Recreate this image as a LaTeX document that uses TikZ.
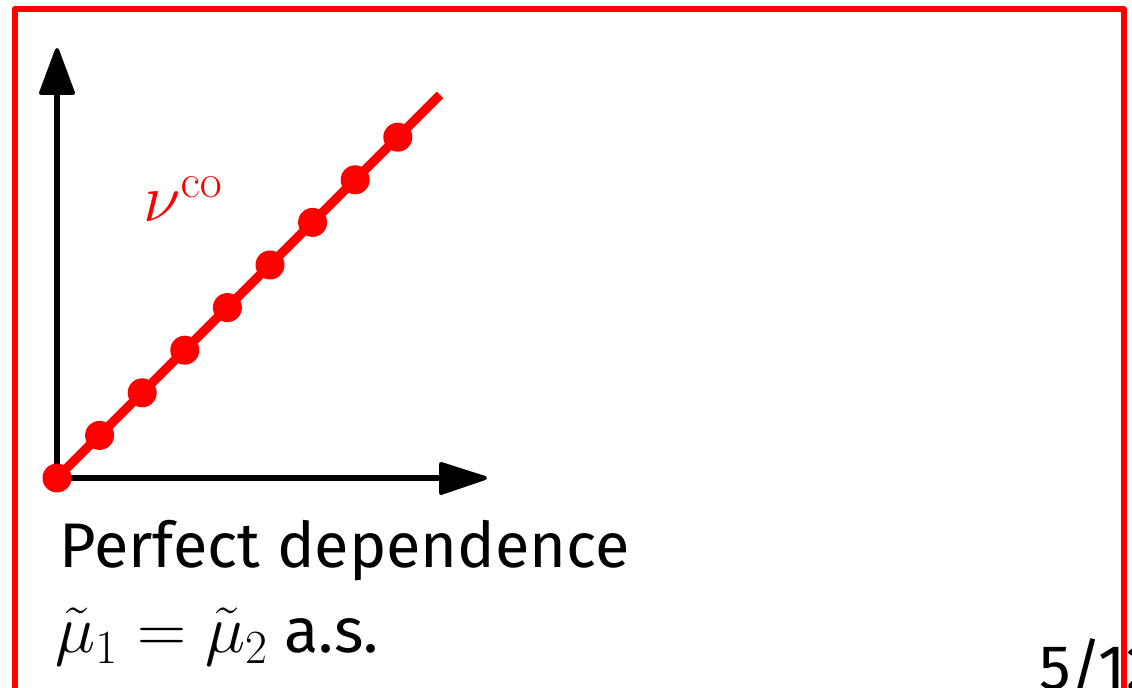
\RequirePackage{fix-cm}
\documentclass[tikz,border=0pt]{standalone}
\usepackage[no-math]{fontspec}
\setmainfont{Fira Sans}
\newcommand{\mathsz}{\fontsize{34}{40}\selectfont}
\begin{document}
\begin{tikzpicture}[x=0.5pt,y=-0.5pt,
  frame/.style={draw=red,line width=3pt,line join=round},
  axis/.style={draw=black,line width=3pt},
  axhead/.style={fill=black,draw=black,line width=2pt,line join=round},
  coline/.style={draw=red,line width=4.6pt},
  codot/.style={circle,fill=red,inner sep=0pt,minimum size=14.5pt},
  txt/.style={inner sep=0pt,anchor=base west,font=\fontsize{31.5}{38}\selectfont}]
\useasboundingbox (0,0) rectangle (1132,688);
\draw[frame] (14.5,9) rectangle (1123.5,760);
% axes
\coordinate (O) at (57,478);
\coordinate (xe) at (442,478);
\coordinate (ye) at (57,92);
\draw[axis] (O) -- (xe);
\draw[axis] (O) -- (ye);
\filldraw[axhead] (441,464) -- (485,478) -- (441,493) -- cycle;
\filldraw[axhead] (41,93) -- (57,50) -- (73,93) -- cycle;
% comonotone line
\coordinate (L) at (440,95);
\draw[coline] (O) -- (L);
\foreach \i in {0,...,8}
  \node[codot] (d\i) at ({57+42.6*\i},{478-42.6*\i}) {};
\node[txt,text=red] (nu) at (143,222) {\mathsz$\nu^{\mathrm{co}}$};
% texts
\node[txt] (t1) at (59,568) {Perfect dependence};
\node[txt] (t2) at (55,653) {{\mathsz$\tilde\mu_1=\tilde\mu_2$} a.s.};
\node[txt] (pg) at (1039,690) {5/12};
\end{tikzpicture}
\end{document}
